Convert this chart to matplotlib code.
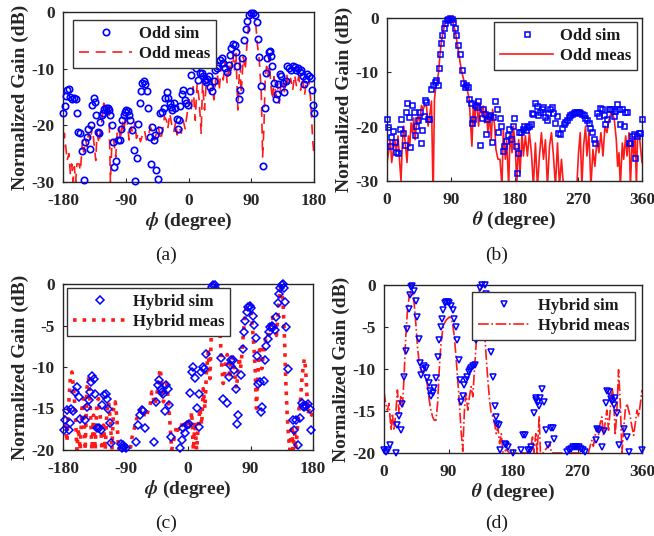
import matplotlib
matplotlib.use("Agg")
import matplotlib.pyplot as plt
import numpy as np

plt.rcParams['font.family'] = ['Liberation Serif', 'DejaVu Serif']
plt.rcParams['font.weight'] = 'bold'
plt.rcParams['mathtext.fontset'] = 'stix'
plt.rcParams['axes.unicode_minus'] = False

# ---------------- (a) Odd, phi cut ----------------
a_sim_phi = [-180, -177.6, -176, -174, -171.5, -169.5, -167, -164.7, -162, -160, -158.4, -156, -152.7, -150.3,
             -148, -145.5, -144, -141.7, -139.8, -137.9, -136, -134, -132, -129.7, -127.8, -126.4, -124.5,
             -122.5, -120.6, -117.8, -115.8, -113.9, -112, -109.6, -108.2, -106.3, -103.4, -101.5, -98.6,
             -96.7, -94.8, -92.9, -91, -89, -87.1, -85.2, -83.3, -80.4, -78.5, -76.1, -73.7, -71.8, -69.9,
             -68, -66.1, -64.1, -62.2, -59.4, -57.4, -55.5, -53.6, -51.7, -49.8, -47.9, -46, -44, -42.1,
             -40.2, -37.8, -35.4, -33, -30.6, -28.7, -26.8, -24.9, -23, -21.1, -19.2, -17.2, -15.3, -13.4,
             -11.5, -10, -7.7, -5.7, -3.8, -1, 1.9, 3.8, 5.7, 8.6, 10.5, 13.4, 16.3, 19.1, 21.1, 23, 24.9,
             26.8, 28.7, 30.6, 33.5, 36.4, 38.3, 40.2, 42.1, 45, 47.9, 49.8, 52.7, 55.5, 57.4, 59.4, 61.3,
             64.1, 66.1, 68, 69.9, 71.8, 73.7, 76.6, 79.5, 81.9, 84.3, 86.6, 89, 91.9, 94.8, 97.7, 99.6,
             101.5, 104.4, 107.2, 109.1, 111.1, 113, 114.9, 116.8, 117.8, 120.2, 122.5, 124.9, 126.4, 128.3,
             131.2, 133.1, 135, 136.9, 139.3, 141.7, 144.6, 147.5, 149.8, 152.2, 154.6, 157, 159.4, 161.8,
             163.7, 165.6, 168, 170.4, 172.8, 175.2, 177.1, 179, 180]
a_sim_gain = [-17.8, -16.6, -14.9, -13.8, -13.5, -15.0, -15.4, -15.1, -15.4, -17.8, -21.1, -21.3, -24.5, -29.7,
              -22.9, -22.0, -20.6, -24.1, -20.0, -16.4, -15.2, -15.8, -18.2, -21.1, -21.4, -19.4, -18.2,
              -17.9, -17.2, -17.0, -17.0, -17.3, -18.2, -20.0, -22.9, -27.3, -26.3, -22.6, -22.6,
              -20.6, -19.1, -18.2, -17.6, -17.3, -17.5, -18.2, -19.1, -20.9, -24.4, -29.8, -25.7, -19.8, -16.1,
              -13.9, -12.6, -12.1, -12.7, -13.9, -17.0, -22.0, -26.8, -20.3, -22.6, -21.7, -27.9, -29.4, -20.9,
              -17.9, -17.6, -17.0, -15.2, -14.2, -15.2, -16.1, -16.7, -17.3, -16.1, -17.0, -18.8, -20.6, -19.1,
              -16.6, -14.5, -13.8, -15.5, -16.1, -16.4, -13.9, -11.1, -9.3, -8.9, -9.9, -12.0, -10.8, -10.7, -11.3, -12.0, -12.3,
              -11.8, -11.3, -13.3, -13.9, -12.1, -10.2, -9.9, -9.6, -8.4, -8.1, -9.0, -9.9, -10.5, -9.3, -7.6, -6.3,
              -5.6, -5.8, -7.1, -9.6, -15.4, -13.8, -8.2, -4.9, -3.0, -1.5, -0.5, -0.1, -0.2, -0.6, -1.7, -4.8,
              -7.9, -13.1, -27.1, -17.0, -10.8, -8.2, -7.0, -6.8, -7.7, -9.6, -12.5, -15.4, -14.5, -12.7,
              -10.9, -11.3, -12.6, -14.1, -12.1, -9.5, -9.9, -10.2, -9.6, -9.7, -10.3, -9.9, -10.5, -10.3,
              -11.3, -12.7, -11.9, -10.9, -11.3, -11.7, -13.8, -16.4, -17.8]

a_meas_phi = [-180, -178, -176, -174, -171.5, -169.5, -167.5, -165.6, -163.7, -161.8, -160, -157, -155, -152,
              -150.3, -147.4, -145.5, -143.6, -140.7, -137.9, -136, -133, -131.2, -128.3, -126.4, -123.5,
              -121.6, -118.7, -115.8, -113.9, -112, -110.1, -107.2, -104.4, -102.4, -99.6, -97.7, -94.8,
              -92.9, -90, -88.1, -85.2, -82.3, -79.5, -76.6, -74.7, -71.8, -68.9, -66.1, -63.2, -60.3, -57.4,
              -54.6, -51.7, -48.8, -46, -43.1, -40.2, -37.3, -34.5, -31.6, -29.7, -26.8, -23.9, -21.1, -18.2,
              -16.3, -13.4, -10.5, -7.7, -4.8, -1.9, 1, 3.8, 6.7, 9.6, 12.4, 15.3, 18.2, 20.1, 23, 25.9, 28.7,
              30.6, 33.5, 36.4, 39.3, 41.2, 44, 46.9, 49.8, 52.7, 55.5, 58.4, 60.3, 63.2, 66.1, 68, 70.8, 73.7,
              75.6, 78.5, 81.4, 84.3, 86.2, 89, 91.9, 93.8, 96.7, 98.6, 101.5, 104.4, 106.3, 108.2, 110.1, 112,
              113.9, 115.8, 117.8, 120.6, 122.5, 125.4, 127.3, 130.2, 132.1, 135, 137.9, 140.7, 143.6, 146.5,
              149.4, 152.2, 155.1, 158, 160.8, 163.7, 166.5, 169.4, 172.3, 175.2, 178.1, 180]
a_meas_gain = [-25.3, -21.4, -23.8, -26.2, -25, -28.5, -26.8, -30, -27.3, -30, -26.8, -26.8, -28, -22.6,
               -24.7, -22.6, -23.8, -21.4, -22.6, -20.3, -22.6, -26.2, -21.4, -23.2, -20.9, -18.5,
               -16.1, -17.3, -16.4, -17.9, -30, -23.8, -22.6, -25.6, -21.4, -20.3, -22.6, -19.1,
               -21.4, -17.9, -19.1, -22.6, -20.3, -21.4, -19.4, -22.3, -21.4, -22.9, -21.7, -20.9, -22.6, -21.7,
               -20.3, -21.1, -22.6, -21.4, -20.3, -22.6, -21.1, -18.5, -19.1, -20.6, -17.9, -20, -21.1, -19.4,
               -21.7, -20.3, -21.4, -19.1, -20.6, -17.9, -15.5, -17.3, -13.2, -19.1, -12.6, -15.5, -21.4, -12.6, -17.3, -11.4, -12.6,
               -14.4, -12, -15.5, -11.7, -10.8, -13.8, -9.6, -12, -8.7, -12.6, -9, -11.4, -7.3, -10.2, -7.3, -17.3, -7.9,
               -14.4, -7.9, -10.2, -4.9, -2.5, -0.5, -0.2, -1.1, -2.5, -5.5, -8.4, -14.4, -25.6, -20.3, -11.4, -9.6,
               -11.4, -7.9, -12.6, -15.5, -11.4, -14.9, -12.6, -16.1, -13.2, -12, -14.4, -10.8, -13.2, -11.7,
               -13.8, -11.1, -13.2, -11.4, -13.8, -11.4, -14.6, -12, -11.4, -15.5, -22.6, -25.3]

# ---------------- (b) Odd, theta cut ----------------
b_sim_theta = [0, 1.9, 3.8, 6.1, 8.5, 10.9, 13.2, 15.6, 17.9, 19.8, 22.7, 25, 27.4, 28.8, 31.1, 33, 35.9, 37.8,
               39.6, 41.5, 43.9, 46.2, 48.1, 50, 51.9, 53.8, 55.7, 57.6, 59.5, 62.8, 65.1, 67.5, 69.8, 72.2,
               73.6, 75.5, 76.9, 78.3, 80.2, 82.1, 84, 86.4, 88.7, 91.1, 93.4, 95.3, 97.2, 99.6, 102.9, 105.2,
               107.6, 109.5, 111.4, 113.7, 116.1, 118, 119.9, 121.8, 124.1, 126.5, 128.8, 131.2, 133.6, 135.9,
               137.8, 139.7, 141.6, 143.5, 145.4, 147.7, 150.1, 152.4, 154.8, 157.1, 159.5, 161.4, 164.2, 165.6,
               168, 170.4, 172.7, 175.1, 177.4, 179.3, 181.7, 183.1, 184.5, 186.9, 188.8, 191.6, 193.5, 196.3,
               198.2, 201, 202.9, 204.3, 206.7, 209, 211.4, 213.7, 216.1, 218.5, 220.8, 223.2, 225.5, 227.9,
               230.3, 232.6, 235, 237.4, 239.7, 242.1, 244.5, 246.8, 249.2, 251.5, 253.9, 256.3, 258.6, 261,
               263.3, 265.7, 268, 270.4, 272.8, 275.1, 277.5, 279.8, 282.2, 284.6, 286.9, 289.3, 291.6, 294,
               296.4, 298.7, 301.1, 303.4, 305.8, 308.2, 310.5, 312.9, 315.2, 317.6, 320, 322.3, 324.7, 327,
               329.4, 331.8, 334.1, 336.5, 338.8, 341.2, 343.6, 345.9, 348.3, 350.6, 353, 355.4, 357.7, 360]
b_sim_gain = [-18.6, -20, -23.6, -21.9, -20.8, -22.8, -24.7, -24.8, -20.4, -18.6, -21.2, -23.3, -17.3, -15.6, -18.2, -23.7, -16.1, -17.3,
              -21.6, -19.8, -18.8, -17.3, -23, -20.6, -18.1, -15, -15.5, -18.6, -18.6, -13, -12.4, -11.8, -11.5, -12.4,
              -9.2, -6.7, -4.6, -3.1, -1.8, -1, -0.4, -0.1, -0.06, -0.2, -0.8, -1.8, -3.1, -4.9, -6.7, -9.5,
              -11.9, -12.7, -12.4, -12.7, -14.9, -15.7, -19.3, -18.6, -16.1, -16.3, -15.3, -23.3, -18.4, -16.7,
              -17.6, -21.4, -18.6, -18.1, -17.9, -22.8, -18.2, -15.3, -16.8, -21, -18.4, -19.8, -24.5, -23.6,
              -22.7, -21.6, -20.4, -22.2, -19.8, -18.4, -23.6, -28.5, -24.8, -21, -21, -20.4, -19.9, -20.6,
              -20, -19.8, -19.6, -17.5, -17.6, -15.7, -16.2, -17.9, -17.3, -16.7, -16.3, -18.2, -18.8, -17.5,
              -16.8, -16.3, -17.5, -19.3, -18.1, -21.1, -21.4, -20.2, -19.6, -19.2, -18.7, -18.2, -17.8, -17.6,
              -17.5, -17.3, -17.3, -17.3, -17.5, -17.6, -17.9, -18.4, -18.8, -19.4, -20.2, -21, -22.2, -23,
              -17.5, -18.1, -16.5, -16.8, -17.8, -19.6, -18.6, -16.8, -16.8, -16.8, -18.1, -17.1, -15.9, -16.7,
              -19.6, -16.8, -19.9, -17.3, -17.3, -23, -23, -21.7, -21.4, -25.7, -21.7, -21.1, -21.1, -18.6]

b_meas_theta = [0, 2.8, 4.7, 6.6, 8.5, 10.9, 13.2, 15.6, 17.9, 19.8, 21.7, 23.6, 26.4, 28.3, 30.2, 32.1, 34, 35.9,
                37.8, 39.6, 41.5, 43.9, 46.2, 48.6, 51, 52.9, 55.7, 58, 60.4, 62.8, 65.1, 67, 68.9, 70.8, 72.7,
                74.6, 76.5, 79.3, 82.1, 84.9, 87.7, 90.6, 93.4, 96.3, 99.1, 101.9, 104.8, 107.6, 110.4, 113.3,
                116.1, 118, 119.9, 121.8, 123.6, 125.5, 127.4, 129.3, 131.2, 133.6, 135.9, 137.8, 139.7, 142.5,
                144.4, 147.2, 149.1, 152, 153.8, 156.7, 159.5, 162.3, 164.2, 167.1, 168.9, 171.8, 173.7, 176.5,
                178.4, 181.2, 183.1, 185.9, 187.8, 190.7, 192.5, 195.4, 198.2, 201, 203.9, 206.7, 209.5, 212.4,
                215.2, 218, 220.9, 223.7, 226.5, 229.4, 232.2, 235, 237.8, 240.7, 243.5, 246.3, 249.2, 255, 262,
                268, 270.4, 272.8, 275.1, 277.5, 280.3, 282.2, 285, 287.9, 290.7, 293.5, 296.4, 299.2, 302,
                304.9, 307.7, 310.5, 313.4, 316.2, 319, 320.9, 323.7, 325.6, 327.5, 329.4, 332.2, 334.1, 337,
                338.8, 341.7, 343.6, 346.4, 348.3, 350.2, 352.1, 353.9, 356.8, 360]
b_meas_gain = [-26.6, -24.2, -22.4, -26.6, -24.8, -22.4, -24.5, -21.7, -26.6, -30, -23, -19.9, -23.9, -26.6, -21.7, -23.6, -19.3, -21.1,
               -18.4, -22.4, -19.9, -17.8, -19.3, -16.1, -16.8, -16.2, -16.1, -19.9, -17.8, -15.3, -33, -15, -12.6, -11.8, -10.1,
               -7, -4.6, -2.4, -1, -0.4, -0.2, -0.3, -1, -2.4, -4.6, -7, -9.5, -11, -12.6, -13.2,
               -15, -19.6, -23.6, -16.2, -19.9, -15, -16.8, -19.9, -15.6, -17.8, -16.2, -19.3, -16.8, -21.1,
               -17.5, -22.4, -16.8, -19.9, -24.2, -26, -26, -31, -20.5, -26, -22.4, -31, -21.1, -24.8,
               -19.9, -23.6, -31, -22.4, -28.5, -21.1, -25.4, -21.7, -25.4, -21.1, -24.8, -31, -23, -31,
               -25.4, -21.1, -26, -22.4, -31, -23.6, -21.1, -25.4, -31, -23, -31, -26, -31, -35, -35,
               -31, -24.8, -21.1, -31, -23.6, -19.9, -25.4, -21.1, -31, -24.2, -27.3, -22.4, -24.8, -21.1,
               -25.4, -19.9, -21.1, -18.7, -17.5, -17.8, -18.7, -22.4, -27.3, -24.8, -31, -23, -26, -21.7,
               -25.4, -21.1, -31, -21.7, -25.4, -21.1, -31, -21.1, -22.4, -26.6]

# ---------------- (c) Hybrid, phi cut ----------------
c_sim_phi = [-179, -176.6, -174.3, -171.9, -169.5, -168.6, -165.7, -162.4, -160, -157.6, -156.2, -148, -145.6,
             -143.2, -141.8, -139.8, -137.9, -136, -133.6, -131.2, -128.8, -125.4, -124, -120.6, -118.7,
             -116.8, -115.8, -112.9, -111.1, -96.7, -95.3, -93.8, -91.9, -89, -74.7, -71.3, -68.9, -66.5,
             -64.1, -61.7, -48.8, -46, -43.1, -41.2, -39.3, -37.3, -35.4, -33.5, -31.6, -28.7, -27.8, -24.9,
             -11.5, -9.1, -6.7, -4.3, -1, 1.4, 2.9, 5.3, 7.7, 10.5, 12.4, 15.3, 16.3, 18.7, 21.1, 23, 25.8,
             27.8, 29.7, 31.6, 34.5, 36.4, 38.3, 40.2, 42.1, 44, 46, 47.9, 49.8, 55.5, 58.4, 60.3, 62.2, 64.1,
             66.1, 68.9, 70.8, 72.7, 75.6, 78.5, 80.4, 82.3, 84.3, 86.6, 89, 91.4, 93.8, 95.7, 97.7, 99.6,
             101.5, 103.4, 105.3, 107.2, 109.1, 111.1, 113, 114.9, 116.8, 118.7, 120.6, 122.5, 125.4, 127.3,
             129.2, 131.2, 133.1, 135, 136.9, 137.9, 139.8, 141.7, 143.6, 151.3, 153.2, 155.1, 158.5, 160.8,
             163.7, 165.6, 167.5, 170.4, 172.8, 175.2, 177.6]
c_sim_gain = [-17.6, -16.4, -15.2, -17.6, -16.8, -15, -15.3, -13, -12.4, -13.6, -16.3, -16.4, -14.8,
              -14, -13, -11.8, -11.1, -11.4, -13.3, -17.3, -17.4, -17.6, -14.6, -13.4, -13.2,
              -13.8, -15, -16.7, -19.2, -19.3, -19.8, -19.4, -19.6, -19.7, -19, -17, -15.8, -15.2,
              -15.3, -17.4, -19, -14.2, -12.2, -11.6, -12.6, -13, -13.2, -15.3, -12.2, -12.6, -14.6, -18.4,
              -19.8, -18.8, -17.4, -18, -17, -16.9, -13.1, -10.6, -10, -11.3, -14.9, -17.2, -13.2, -10.6, -10, -10.2, -8.4,
              -5.6, -3.2, -1.6, -0.4, -0.1, -0.1, -0.6, -1.8, -3.4, -5.7, -8.9, -13.9, -14.3, -11.2, -9.8, -9.1, -9.2,
              -10.4, -12.7, -16.9, -15.8, -11, -7.8, -5.8, -4.4, -3.4, -2.8, -2.6, -2.9, -3.8, -4.9, -6.5, -8.7,
              -12, -11.8, -15.4, -14.8, -11.7, -9.1, -7.5, -6.6, -5.8, -5.2, -5.1, -5.2, -5.6, -4,
              -2.3, -1.2, -0.5, -0.1, 0, -0.5, -2.2, -5.2, -10.2, -16.4, -17.6, -16.4, -19.4, -16.1,
              -14.3, -14.7, -14.8, -14.7, -14.5, -15, -17.6]

c_meas_phi = [-180, -176.6, -174.3, -171.9, -169.5, -167.2, -164.7, -162.4, -160, -157.6, -155.2, -152.8, -150.5,
              -148, -145.6, -143.2, -140.8, -138.4, -136, -133.6, -131.2, -128.8, -126.4, -124, -121.6, -119.2,
              -116.8, -114.4, -112, -109.6, -107.2, -104.8, -102.4, -100, -96.5, -92.9, -88.1, -83.3, -80.9,
              -78.5, -76.1, -73.7, -71.3, -68.9, -66.5, -64.1, -61.7, -59.3, -56.9, -54.6, -52.2, -49.8, -47.4,
              -45, -42.6, -40.2, -37.8, -35.4, -33, -30.6, -28.2, -25.8, -23.5, -21.1, -18.7, -16.3, -13.9,
              -11.5, -9.1, -6.7, -4.3, -1.9, 0.5, 2.9, 5.3, 7.7, 10.1, 12.4, 14.8, 17.2, 19.6, 22, 24.4, 26.8,
              29.2, 31.6, 33.5, 35.4, 37.3, 39.3, 41.2, 43.1, 45, 46.9, 48.8, 50.7, 52.7, 54.6, 56.5, 58.4, 60.3,
              62.2, 64.1, 66.1, 68, 69.9, 71.8, 73.7, 75.6, 77.5, 79.5, 81.4, 83.3, 85.2, 87.1, 89, 90.9, 92.8,
              94.8, 96.7, 98.6, 100.5, 102.4, 104.4, 106.3, 108.2, 110.1, 112, 113.9, 115.8, 117.8, 119.7,
              121.6, 123.5, 125.4, 127.3, 129.2, 131.2, 133.1, 135, 136.9, 138.8, 140.7, 142.6, 144.6, 146.5,
              149.4, 151.3, 153.2, 155.1, 158, 159.9, 161.8, 163.7, 165.6, 167.5, 169.4, 171.3, 173.2, 175.2,
              178, 180]
c_meas_gain = [-15.8, -17, -19, -14.6, -11.4, -10.6, -12.6, -15.4, -20, -17.4, -20, -15, -13.8,
               -20, -12.6, -11.4, -14.6, -20, -15.8, -20, -14.2, -13.8, -15.8, -20, -17, -20,
               -15.4, -14.2, -16.2, -20, -15, -14.2, -16.2, -20, -19.5, -20, -19.8, -20, -18.6,
               -17.8, -17, -16.2, -15.8, -15.2, -15.6, -16, -15.4, -15.8, -15, -14.6, -13, -13.8, -14.6,
               -13.4, -11.8, -10.2, -11.8, -14.2, -13, -12, -14.2, -17, -20, -19, -18.2, -17, -17.6,
               -17.8, -17, -16.4, -16.8, -17.2, -16.6, -17.4, -15.4, -20, -16.6, -20, -17, -15, -17, -12.6, -15, -10.2,
               -8.2, -11.4, -6.2, -3.4, -1.4, -0.8, -1, -2.2, -4.2, -7, -10.2, -12, -11, -9, -8.5, -9, -11.4,
               -9, -8.8, -9.4, -11.4, -12.6, -10.6, -8.8, -10.2, -8.6, -6.2, -4.2, -3, -2.4, -2.2, -2.4, -3.4, -5.2,
               -7.4, -10.2, -15, -11.4, -8.2, -7.4, -10.2, -8.6, -7.4, -6.6, -6.8, -6.2, -4.4, -5,
               -4, -4.6, -5.6, -6.2, -4.2, -1.8, -0.4, -1, -2.2, -6.2, -11.4, -15.4, -18.2, -20,
               -17, -20, -17.4, -20, -17, -15, -14.2, -11.8, -10.2, -9, -10.2, -13.4, -15.4, -15,
               -15.8, -15.4]

# ---------------- (d) Hybrid, theta cut ----------------
d_sim_theta = [0, 3.3, 6.1, 7.9, 16.4, 18.7, 21, 23.4, 25.7, 28, 31.3, 32.7, 35.1, 36.5, 37.9, 39.7, 42.1, 44.4,
               46.3, 48.2, 50, 51.9, 53.8, 56.1, 58.4, 60.3, 62.2, 64, 65.9, 67.8, 70.1, 72.5, 74.8, 77.1, 79,
               80.9, 82.8, 84.6, 86.5, 88.8, 91.2, 93, 95.8, 98.2, 100.5, 102.4, 104.3, 106.1, 108, 109.9,
               112.2, 114.5, 116.4, 118.3, 120.2, 122, 123.9, 126.7, 128.6, 130.5, 132.3, 134.2, 137, 140.3,
               142.6, 144.9, 147.3, 149.6, 151.9, 154.3, 155.7, 158, 160.4, 162.2, 168.3, 170.7, 173, 180,
               191.7, 194.1, 196.4, 201.1, 203.4, 205.7, 209, 211.8, 212.7, 215.1, 216.5, 218.3, 221.1, 223,
               225.8, 229.1, 232.4, 235.2, 237, 255.7, 258.5, 261.3, 264.1, 266.9, 269.8, 272.6, 275.4, 278.2,
               281, 295.9, 297.8, 300.6, 303.9, 307.2, 310, 311.8, 314.6, 316.5, 318.4, 320.3, 322.6, 325,
               327.3, 334.3, 338.9, 341.3, 360]
d_sim_gain = [-19.6, -19.9, -19.7, -19, -20, -16.7, -15.6, -17.3, -14.2, -10.9, -7.8, -5.2, -2.9, -1.2, -0.2, -0.1, -0.7, -1.9,
              -3.8, -6.4, -9.3, -10.7, -10.1, -9.7, -9.9, -11.1, -11.7, -12.6, -13.2, -12.9, -12.3, -11.1, -8.6, -6.6, -5,
              -4, -3, -2.2, -2, -2, -2.1, -2.5, -3, -4, -5, -6.6, -8.9, -11.3, -13.9, -13.2,
              -11.9, -11.3, -10.9, -10.3, -10.1, -9.9, -9.7, -9.5, -6.6, -3, -1.7, -0.4, 0, 0,
              -1.1, -2.7, -5, -8, -11, -14.4, -15.7, -16.6, -16.7, -19.6, -18.9, -19, -19.3, -20,
              -19.6, -17.8, -17.9, -19.7, -19.6, -19.3, -15.2, -13.7, -13.5, -13.9, -14.4, -13.5, -12.4, -13.9,
              -17.3, -19.1, -17, -17, -18.3, -19.9, -19.7, -19.5, -19.3, -19.3, -19.3, -19.3, -19.5, -19.7,
              -19.9, -18.5, -17.2, -17.3, -19.3, -17.4, -14, -12.6, -12.7, -13.6, -13.8, -14.3, -13.5, -15.2,
              -19.1, -17.2, -18.1, -19.9, -19.7]

d_meas_theta = [0, 2.3, 4.7, 7, 9.8, 11.7, 14, 16.4, 18.7, 21, 23.4, 25.7, 28, 30.4, 32.7, 35.1, 37.4, 39.7, 42.1,
                44.4, 46.8, 49.1, 51.4, 53.8, 56.1, 58.4, 60.8, 63.1, 65.5, 67.8, 70.1, 72.5, 74.8, 77.1, 79.5,
                81.8, 84.2, 86.5, 88.8, 91.2, 93.5, 95.8, 98.2, 100.5, 102.9, 105.2, 107.5, 109.9, 112.2, 114.5,
                116.9, 119.2, 121.6, 123.9, 126.2, 128.6, 130.9, 133.2, 135.6, 137.9, 140.3, 142.6, 144.9,
                147.3, 149.6, 151.9, 154.3, 156.6, 158.9, 161.3, 163.6, 166, 170.6, 175.3, 203.4, 207.2, 209,
                211.8, 213.6, 216.5, 218.3, 222, 231.4, 233.7, 250, 285.2, 287.5, 289.9, 292.2, 294.5, 296.9,
                299.2, 301.5, 303.9, 306.3, 308.5, 310.9, 313.3, 315.6, 317.9, 320.3, 322.6, 325, 327.3, 329.7,
                332, 334.3, 336.6, 339, 341.3, 343.6, 346, 348.3, 350.6, 353, 355.3, 357.7, 360]
d_meas_gain = [-12.7, -14.1, -14.9, -14.1, -17.3, -15.3, -17.3, -15.3, -12.5, -15.3, -13.3, -14.5, -10.9, -6.2, -3, -1.4, -0.8, -1, -2.2,
               -4.6, -7.4, -9.3, -10.1, -10.5, -10.1, -10.9, -12.1, -13.7, -14.9, -15.7, -16.1, -16.1, -14.1, -10.1, -7,
               -5.4, -4.6, -4.2, -4, -3.8, -4, -4.6, -6.2, -8.6, -11.3, -14.1, -17.3, -19.8, -14.9, -12.9,
               -14.9, -13.3, -12.1, -13.3, -10.1, -7, -3, -0.6, -0.4, -2.2, -5.4, -8.6, -11.3,
               -13.7, -15.3, -15.7, -16.5, -17.7, -16.9, -18.9, -17.7, -20, -19.6, -20, -20, -18.1, -20,
               -17.7, -20, -15.7, -20, -20, -18.9, -20, -20, -20, -19.2, -18.5, -19.2, -17.9, -16.9,
               -17.9, -16.5, -15.7, -17.9, -16.5, -14.9, -17.3, -14.9, -12.1, -13.3, -17.9, -14.9, -10.1, -14.1,
               -20, -17.3, -14.9, -14.1, -14.9, -15.7, -16.9, -17.9, -16.5, -14.9, -15.7, -14.1, -12.5]

BLUE = '#0000FF'
RED = '#FF1A1A'
FS_TICK = 12.5
FS_LAB = 14
FS_LEG = 12
INK = '#262626'

fig = plt.figure(figsize=(6.54, 5.36), dpi=100)

def px_axes(l, t, r, b):
    W, H = 654, 536
    return fig.add_axes([l / W, 1 - b / H, (r - l) / W, (b - t) / H])

def style(ax, xlim, xticks, ylim, yticks, xlabel):
    ax.set_xlim(*xlim)
    ax.set_ylim(*ylim)
    ax.set_xticks(xticks)
    ax.set_yticks(yticks)
    ax.set_xticklabels([str(v) for v in xticks], fontweight='bold', fontsize=FS_TICK)
    ax.set_yticklabels([str(v) for v in yticks], fontweight='bold', fontsize=FS_TICK)
    ax.tick_params(direction='in', length=3, width=0.8, colors=INK)
    ax.tick_params(axis='x', pad=8)
    ax.tick_params(axis='y', pad=6)
    for s in ax.spines.values():
        s.set_linewidth(1.0)
        s.set_color(INK)
    ax.set_xlabel(xlabel, fontsize=FS_LAB, fontweight='bold', labelpad=1, color=INK)
    ax.set_ylabel('Normalized Gain (dB)', fontsize=FS_LAB, fontweight='bold', labelpad=2, color=INK)
    return ax

def legend(ax, loc, anchor):
    leg = ax.legend(loc=loc, bbox_to_anchor=anchor, bbox_transform=fig.transFigure,
                    prop={'family': 'Liberation Serif', 'weight': 'bold', 'size': FS_LEG},
                    frameon=True, fancybox=False, framealpha=1, edgecolor='#333333',
                    handlelength=3.2, handletextpad=0.4, borderpad=0.35, labelspacing=0.25,
                    borderaxespad=0)
    leg.get_frame().set_linewidth(1.0)
    for t in leg.get_texts():
        t.set_color('#1a1a1a')

PHI = r'$\boldsymbol{\phi}$ (degree)'
THETA = r'$\boldsymbol{\theta}$ (degree)'

# (a)
ax = px_axes(63, 12, 314, 182)
ax.plot(a_sim_phi, a_sim_gain, 'o', ms=4.6, mfc='none', mec=BLUE, mew=1.2, label='Odd sim', clip_on=False, zorder=3)
ax.plot(a_meas_phi, a_meas_gain, '--', color=RED, lw=1.2, dashes=(6, 4), label='Odd meas')
style(ax, (-180, 180), [-180, -90, 0, 90, 180], (-30, 0), [-30, -20, -10, 0], PHI)
legend(ax, 'upper left', (73 / 654, 1 - 20 / 536))

# (b)
ax = px_axes(387, 18, 642, 181)
ax.plot(b_sim_theta, b_sim_gain, 's', ms=3.6, mfc='none', mec=BLUE, mew=1.1, label='Odd sim', clip_on=False, zorder=3)
ax.plot(b_meas_theta, b_meas_gain, '-', color=RED, lw=1.2, label='Odd meas')
style(ax, (0, 360), [0, 90, 180, 270, 360], (-30, 0), [-30, -20, -10, 0], THETA)
legend(ax, 'upper right', (637 / 654, 1 - 22 / 536))

# (c)
ax = px_axes(63, 284, 313, 450)
ax.plot(c_sim_phi, c_sim_gain, 'D', ms=3.8, mfc='none', mec=BLUE, mew=1.1, label='Hybrid sim', clip_on=False, zorder=3)
ax.plot(c_meas_phi, c_meas_gain, ':', color=RED, lw=2.6, label='Hybrid meas')
style(ax, (-180, 180), [-180, -90, 0, 90, 180], (-20, 0), [-20, -15, -10, -5, 0], PHI)
legend(ax, 'upper left', (67 / 654, 1 - 288 / 536))

# (d)
ax = px_axes(384, 285, 642, 453)
ax.plot(d_sim_theta, d_sim_gain, 'v', ms=5, mfc='none', mec=BLUE, mew=1.1, label='Hybrid sim', clip_on=False, zorder=3)
ax.plot(d_meas_theta, d_meas_gain, '-.', color=RED, lw=1.2, label='Hybrid meas')
style(ax, (0, 360), [0, 90, 180, 270, 360], (-20, 0), [-20, -15, -10, -5, 0], THETA)
legend(ax, 'upper right', (635 / 654, 1 - 292 / 536))

for txt, x, y in [('(a)', 166, 255), ('(b)', 497, 255), ('(c)', 166, 523), ('(d)', 497, 523)]:
    fig.text(x / 654, 1 - y / 536, txt, ha='center', va='center', fontsize=14,
             fontweight='normal', color='#1a1a1a')

fig.savefig('out.png', dpi=100)
